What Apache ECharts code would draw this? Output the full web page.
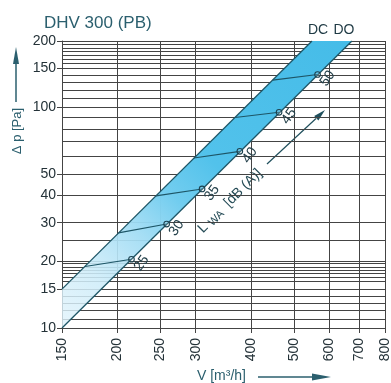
<!DOCTYPE html>
<html><head><meta charset="utf-8">
<script src="https://cdn.jsdelivr.net/npm/echarts@6/dist/echarts.min.js"></script>
<style>html,body{margin:0;padding:0;background:#fff}#c{width:391px;height:383px}</style>
</head><body><div id="c"></div>
<script>
// Axis tick labels and grid
const xTicks = [150, 200, 250, 300, 400, 500, 600, 700, 800];
const yTickLabels = [10, 15, 20, 30, 40, 50, 100, 150, 200];
const yGridValues = [10, 11, 12, 13, 14, 15, 16.3, 17, 17.7, 18.3, 18.9, 19.6, 20, 25, 30, 40, 50, 60, 70, 80, 90, 100, 110, 120, 130, 140, 150, 158, 165, 172, 179, 186, 193, 200];
// Characteristic lines (V m3/h, delta p Pa)
const dcV = [150, 548];
const dcP = [15, 200];
const doV = [150, 674];
const doP = [10, 200];
// Sound power level lines
const noiseLevels = [25, 30, 35, 40, 45, 50];
const noiseStartV = [169, 201, 244, 297, 368, 447];
const noiseStartP = [19.0, 27.0, 39.7, 59, 90, 133];
const noiseV = [215, 258, 310, 377, 462, 564];
const noiseP = [20.5, 29.6, 42.7, 63.2, 95, 141];

const FONT = '"Liberation Sans", Arial, sans-serif';
const GRID = '#444';
const LINE = '#1d5566';
const TEAL = '#2b5f6e';
const LABEL = '#243238';

const chart = echarts.init(document.getElementById('c'), null, {renderer: 'canvas'});

const dcData = dcV.map((v, i) => [v, dcP[i]]);
const doData = doV.map((v, i) => [v, doP[i]]);
const bandPts = dcData.concat(doData.slice().reverse());

function endLabel(data, text, off) {
  return data.map((d, i) => i === data.length - 1 ? {
    value: d,
    label: {show: true, formatter: text, position: 'top', distance: 4, offset: off,
      fontSize: 14, fontFamily: FONT, color: '#1f3a44'}
  } : {value: d});
}

const option = {
  animation: false,
  backgroundColor: '#fff',
  title: {
    text: 'DHV 300 (PB)', left: 39, top: 10,
    textStyle: {fontSize: 17, fontWeight: 'normal', fontFamily: FONT, color: TEAL}
  },
  grid: {left: 62, right: 6, top: 41, bottom: 55, containLabel: false, outerBoundsMode: 'none'},
  xAxis: {
    type: 'log', min: 150, max: 800,
    axisLine: {show: true, lineStyle: {color: GRID, width: 1}},
    axisTick: {show: true, customValues: xTicks, length: 5, lineStyle: {color: GRID}},
    axisLabel: {customValues: xTicks, rotate: 90, margin: 10, fontSize: 14, fontFamily: FONT, color: LABEL,
      formatter: v => String(Math.round(v))},
    splitLine: {show: true, lineStyle: {color: GRID, width: 1}},
    minorTick: {show: false}, minorSplitLine: {show: false}
  },
  yAxis: [{
    type: 'log', min: 10, max: 200,
    axisLine: {show: true, lineStyle: {color: GRID, width: 1}},
    axisTick: {show: true, customValues: yGridValues, length: 0, lineStyle: {color: GRID, width: 0}},
    axisLabel: {show: false},
    splitLine: {show: true, lineStyle: {color: GRID, width: 1}}
  }, {
    type: 'log', min: 10, max: 200, position: 'left',
    axisLine: {show: false},
    axisTick: {show: true, customValues: yTickLabels, length: 5, lineStyle: {color: GRID}},
    axisLabel: {customValues: yTickLabels, margin: 6, fontSize: 14, fontFamily: FONT, color: LABEL,
      formatter: v => String(Math.round(v))},
    splitLine: {show: false}
  }],
  graphic: [
    // y axis arrow and name
    {type: 'line', shape: {x1: 16, y1: 102, x2: 16, y2: 60}, style: {stroke: TEAL, lineWidth: 1.5}},
    {type: 'polygon', shape: {points: [[16, 47], [13, 64], [19, 64]]}, style: {fill: TEAL}},
    {type: 'text', x: 17, y: 131, rotation: Math.PI / 2,
      style: {text: 'Δ p [Pa]', font: '13px ' + FONT, fill: TEAL, align: 'center', verticalAlign: 'middle'}},
    // x axis name and arrow
    {type: 'text', x: 197, y: 376,
      style: {text: 'V [m³/h]', font: '14px ' + FONT, fill: TEAL, align: 'left', verticalAlign: 'middle'}},
    {type: 'line', shape: {x1: 258, y1: 377, x2: 314, y2: 377}, style: {stroke: TEAL, lineWidth: 1.5}},
    {type: 'polygon', shape: {points: [[331, 377], [312, 373.5], [312, 380.5]]}, style: {fill: TEAL}},
    // LWA annotation
    {type: 'text', x: 230, y: 201, rotation: Math.PI / 4,
      style: {text: 'L {s|WA}  [dB (A)]', font: '14px ' + FONT, fill: '#234a55', align: 'center', verticalAlign: 'middle',
        rich: {s: {fontSize: 11, fontFamily: FONT, fill: '#234a55', verticalAlign: 'bottom', padding: [5, 0, 0, 0]}}}},
    {type: 'line', shape: {x1: 267, y1: 164, x2: 316, y2: 118.5}, style: {stroke: '#1f4f5c', lineWidth: 1.2}},
    {type: 'polygon', shape: {points: [[325, 110], [318.4, 120.6], [314.2, 116.0]]}, style: {fill: '#1f4f5c'}}
  ],
  series: [
    {
      type: 'custom', name: 'band', z: 1,
      data: [[dcV[0], dcP[0]]],
      renderItem: function (params, api) {
        const pts = bandPts.map(p => api.coord(p));
        return {
          type: 'polygon',
          shape: {points: pts},
          style: {
            fill: new echarts.graphic.LinearGradient(0, 1, 1, 0, [
              {offset: 0, color: 'rgba(225,243,251,0.8)'},
              {offset: 0.15, color: 'rgba(205,236,249,0.88)'},
              {offset: 0.3, color: 'rgba(160,220,244,0.94)'},
              {offset: 0.42, color: '#72cdef'},
              {offset: 0.55, color: '#52c2eb'},
              {offset: 1, color: '#45bce8'}
            ]),
            stroke: null
          }
        };
      }
    },
    {
      type: 'line', name: 'DC', z: 3, symbol: 'circle', symbolSize: 0, showSymbol: true,
      data: endLabel(dcData, 'DC', [6, 0]),
      lineStyle: {color: LINE, width: 1.3}
    },
    {
      type: 'line', name: 'DO', z: 3, symbol: 'circle', symbolSize: 0, showSymbol: true,
      data: endLabel(doData, 'DO', [-8, 0]),
      lineStyle: {color: LINE, width: 1.3}
    },
    {
      type: 'custom', name: 'LWA', z: 4,
      data: noiseLevels.map((l, i) => [noiseStartV[i], noiseStartP[i], noiseV[i], noiseP[i], l]),
      renderItem: function (params, api) {
        const p1 = api.coord([api.value(0), api.value(1)]);
        const p2 = api.coord([api.value(2), api.value(3)]);
        return {
          type: 'group',
          children: [
            {type: 'line', shape: {x1: p1[0], y1: p1[1], x2: p2[0], y2: p2[1]},
              style: {stroke: LINE, lineWidth: 1.1}},
            {type: 'circle', shape: {cx: p2[0], cy: p2[1], r: 2.8},
              style: {fill: 'rgba(255,255,255,0.15)', stroke: '#1b4250', lineWidth: 1.1}},
            {type: 'text', x: p2[0] + 10, y: p2[1] + 4, rotation: 55 * Math.PI / 180,
              style: {text: String(api.value(4)), font: '14px ' + FONT, fill: '#23404a',
                align: 'center', verticalAlign: 'middle'}}
          ]
        };
      }
    }
  ]
};
chart.setOption(option);
</script>
</body></html>
